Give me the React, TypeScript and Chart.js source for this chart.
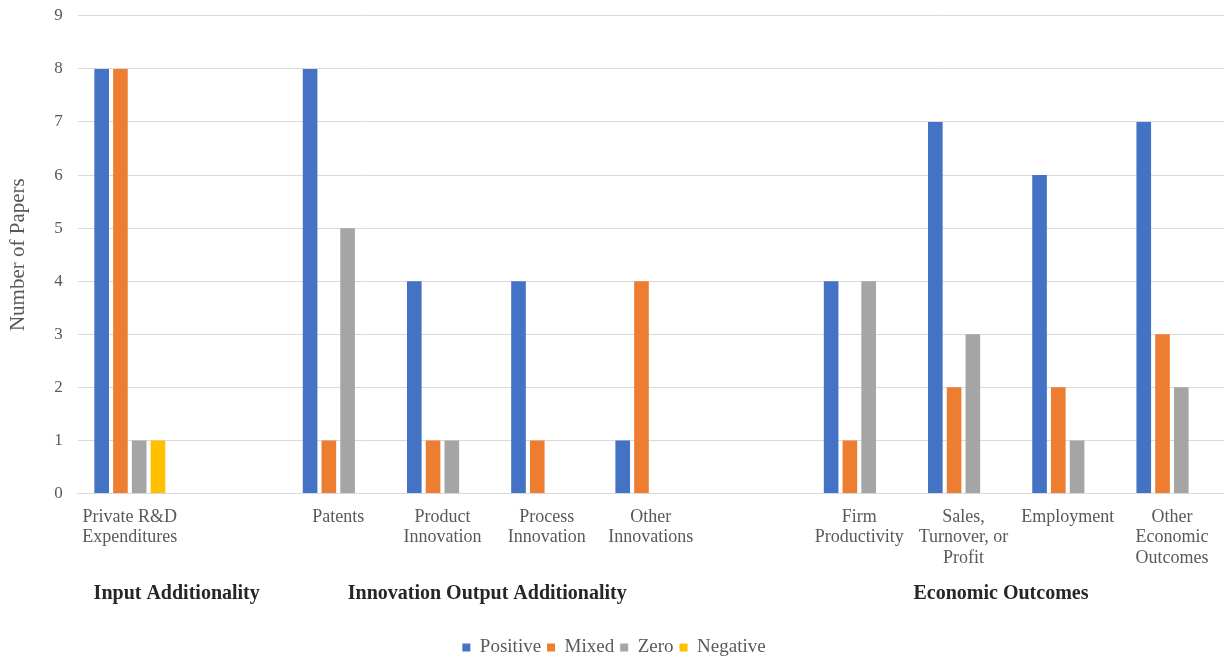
import React, { useEffect, useRef } from "react";
import { Chart, registerables } from "chart.js";

Chart.register(...registerables);

const categories: (string | string[])[] = [
  ["Private R&D", "Expenditures"],
  "",
  ["Patents"],
  ["Product", "Innovation"],
  ["Process", "Innovation"],
  ["Other", "Innovations"],
  "",
  ["Firm", "Productivity"],
  ["Sales,", "Turnover, or", "Profit"],
  ["Employment"],
  ["Other", "Economic", "Outcomes"],
];

const positive = [8, null, 8, 4, 4, 1, null, 4, 7, 6, 7];
const mixed = [8, null, 1, 1, 1, 4, null, 1, 2, 2, 3];
const zero = [1, null, 5, 1, 0, 0, null, 4, 3, 1, 2];
const negative = [1, null, 0, 0, 0, 0, null, 0, 0, 0, 0];

const groupLabels = ["Input Additionality", "Innovation Output Additionality", "Economic Outcomes"];
const groupAnchors = [0.45, 3.43, 8.36];

const yTicks = [0, 1, 2, 3, 4, 5, 6, 7, 8, 9];

const FONT = "'Liberation Serif', 'Times New Roman', serif";
const TEXT = "#595959";

const groupPlugin = {
  id: "groupLabels",
  afterDraw(chart: any) {
    const ctx = chart.ctx;
    const xs = chart.scales.x;
    ctx.save();
    ctx.font = `bold 20px ${FONT}`;
    ctx.fillStyle = "#262626";
    ctx.textAlign = "center";
    ctx.textBaseline = "middle";
    groupLabels.forEach((g, i) => {
      ctx.fillText(g, xs.getPixelForValue(groupAnchors[i]), xs.top + 100);
    });
    ctx.restore();
  },
};

export default function App() {
  const ref = useRef<HTMLCanvasElement>(null);
  useEffect(() => {
    document.body.style.margin = "0";
    const chart = new Chart(ref.current!, {
      type: "bar",
      data: {
        labels: categories,
        datasets: [
          { label: "Positive", data: positive, backgroundColor: "#4472C4" },
          { label: "Mixed", data: mixed, backgroundColor: "#ED7D31" },
          { label: "Zero", data: zero, backgroundColor: "#A5A5A5" },
          { label: "Negative", data: negative, backgroundColor: "#FFC000" },
        ],
      },
      options: {
        animation: false,
        responsive: false,
        layout: { padding: { top: 0, right: 0, left: 4, bottom: -7 } },
        datasets: { bar: { categoryPercentage: 0.72, barPercentage: 0.78 } },
        scales: {
          x: {
            grid: { display: false },
            border: { display: true, color: "#d9d9d9" },
            ticks: {
              maxRotation: 0,
              autoSkip: false,
              color: TEXT,
              padding: 6,
              font: { family: FONT, size: 18, lineHeight: 1.12 },
            },
            afterFit: (scale: any) => {
              scale.height += 58;
            },
          },
          y: {
            min: 0,
            max: 9,
            afterBuildTicks: (scale: any) => {
              scale.ticks = yTicks.map((v) => ({ value: v }));
            },
            grid: { color: "#d9d9d9", drawTicks: false },
            border: { display: false },
            ticks: {
              color: TEXT,
              padding: 15,
              font: { family: FONT, size: 17, lineHeight: 0.1 },
            },
            title: {
              display: true,
              text: "Number of Papers",
              color: TEXT,
              padding: { top: 2, bottom: 8 },
              font: { family: FONT, size: 21 },
            },
          },
        },
        plugins: {
          legend: {
            position: "bottom",
            labels: {
              boxWidth: 8,
              boxHeight: 8,
              color: TEXT,
              padding: 6,
              font: { family: FONT, size: 19 },
            },
          },
          tooltip: { enabled: false },
        },
      },
      plugins: [groupPlugin],
    } as any);
    return () => chart.destroy();
  }, []);
  return <canvas ref={ref} width={1224} height={660} style={{ display: "block" }} />;
}
